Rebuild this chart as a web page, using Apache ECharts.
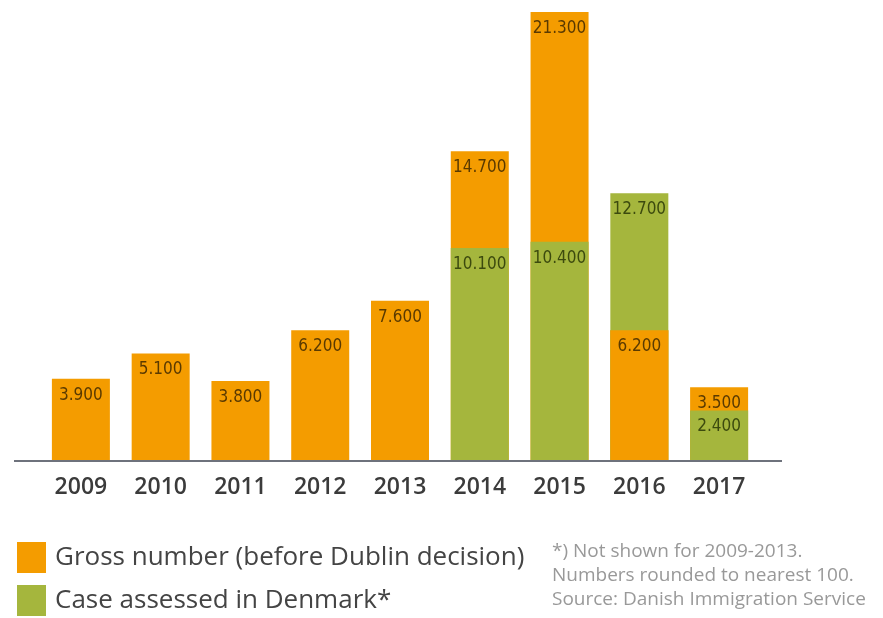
<!DOCTYPE html>
<html>
<head>
<meta charset="utf-8">
<script src="https://cdn.jsdelivr.net/npm/echarts@6/dist/echarts.min.js"></script>
<style>
  html, body { margin: 0; padding: 0; background: #ffffff; }
  #chart { width: 883px; height: 618px; }
</style>
</head>
<body>
<div id="chart"></div>
<script>
// Dublin cases per year
var years = ['2009', '2010', '2011', '2012', '2013', '2014', '2015', '2016', '2017'];
var grossNumber = [3900, 5100, 3800, 6200, 7600, 14700, 21300, 6200, 3500];
var assessedInDenmark = [null, null, null, null, null, 10100, 10400, 12700, 2400];

var grossName = 'Gross number (before Dublin decision)';
var assessedName = 'Case assessed in Denmark*';
var footnoteLines = ['*) Not shown for 2009-2013.', 'Numbers rounded to nearest 100.', 'Source: Danish Immigration Service'];

var ORANGE = '#f49c00';
var GREEN = '#a5b63d';
var NARROW = '"Liberation Sans Narrow", "DejaVu Sans Condensed", sans-serif';

// Danish thousands separator: 14700 -> "14.700"
function fmt(v) {
  var t = Math.floor(v / 1000);
  var r = String(v % 1000);
  while (r.length < 3) r = '0' + r;
  return t > 0 ? t + '.' + r : String(v);
}

// where the gross bar is shorter than the assessed bar it is drawn in front
var grossFront = grossNumber.map(function (g, i) {
  var a = assessedInDenmark[i];
  return (a != null && g < a) ? g : null;
});

function labelStyle(color) {
  return {
    show: true,
    position: 'insideTop',
    distance: 8,
    fontFamily: NARROW,
    fontSize: 17,
    color: color
  };
}

var chart = echarts.init(document.getElementById('chart'));
chart.setOption({
  animation: false,
  backgroundColor: '#ffffff',
  grid: { left: 41, right: 124, top: 12, bottom: 157 },
  xAxis: {
    type: 'category',
    data: years,
    axisLine: { show: false },
    axisTick: { show: false },
    axisLabel: {
      margin: 15,
      fontFamily: 'Open Sans',
      fontWeight: 600,
      fontSize: 23,
      color: '#3b3b3b'
    }
  },
  yAxis: {
    type: 'value',
    min: 0,
    max: 'dataMax',
    show: false,
    splitLine: { show: false }
  },
  legend: {
    orient: 'vertical',
    left: 17,
    top: 542,
    padding: 0,
    height: 76,
    itemWidth: 29,
    itemHeight: 31,
    itemGap: 12,
    icon: 'rect',
    data: [grossName, assessedName],
    textStyle: {
      fontFamily: 'Open Sans',
      fontSize: 26,
      lineHeight: 31,
      color: '#444444',
      padding: [0, 0, 0, 4]
    }
  },
  series: [
    {
      name: grossName,
      type: 'bar',
      barWidth: 58,
      barGap: '-100%',
      data: grossNumber,
      itemStyle: { color: ORANGE },
      label: Object.assign(labelStyle('#5a3a00'), {
        formatter: function (p) { return grossFront[p.dataIndex] != null ? '' : fmt(p.value); }
      })
    },
    {
      name: assessedName,
      type: 'bar',
      barWidth: 58,
      barGap: '-100%',
      data: assessedInDenmark,
      itemStyle: { color: GREEN },
      label: Object.assign(labelStyle('#3c4a0e'), {
        formatter: function (p) { return fmt(p.value); }
      })
    },
    {
      name: 'grossFront',
      type: 'bar',
      barWidth: 58,
      barGap: '-100%',
      data: grossFront,
      itemStyle: { color: ORANGE },
      label: Object.assign(labelStyle('#5a3a00'), {
        formatter: function (p) { return fmt(p.value); }
      })
    }
  ],
  graphic: [
    {
      type: 'line',
      shape: { x1: 14, y1: 461, x2: 782, y2: 461 },
      style: { stroke: '#6e727c', lineWidth: 2 },
      z: 10
    },
    {
      type: 'text',
      left: 552,
      top: 540,
      style: {
        text: footnoteLines.join('\n'),
        fontFamily: 'Open Sans',
        fontSize: 19,
        lineHeight: 24,
        fill: '#999999'
      }
    }
  ]
});
</script>
</body>
</html>
